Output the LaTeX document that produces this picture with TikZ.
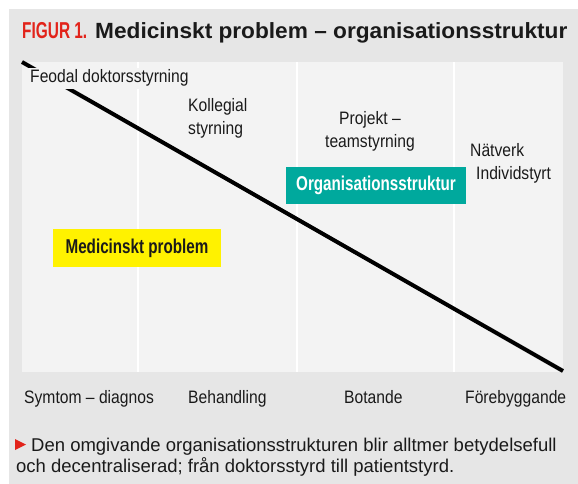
\documentclass[tikz,border=0pt]{standalone}
\usepackage{fontspec}
\setmainfont{Liberation Sans}
\newfontfamily\labelfont[FakeStretch=0.87]{Liberation Sans}
\newfontfamily\condbold[FakeStretch=0.76]{Liberation Sans}
\newfontfamily\figfont[FakeStretch=0.67]{Liberation Sans}
\newfontfamily\titlefont[FakeStretch=1.03]{Liberation Sans}
\definecolor{outerbg}{HTML}{E6E6E6}
\definecolor{innerbg}{HTML}{F3F3F3}
\definecolor{figred}{HTML}{E2231A}
\definecolor{orgteal}{HTML}{00A99D}
\definecolor{probyellow}{HTML}{FFF200}
\definecolor{textdark}{HTML}{1A1A1A}
\begin{document}
\begin{tikzpicture}[x=1pt,y=-1pt,
  lbl/.style={font=\labelfont\fontsize{18}{23}\selectfont, text=textdark, inner sep=0pt},
  tag/.style={font=\condbold\bfseries\fontsize{20}{23}\selectfont, inner sep=0pt},
  divider/.style={white, line width=1.5pt},
  trend/.style={black, line width=4pt}]
\useasboundingbox (0,0) rectangle (578,484);
\fill[white] (0,0) rectangle (578,484);
% panels
\fill[outerbg] (9,9) rectangle (578,484);
\fill[innerbg] (22,62) rectangle (563,372);
% column dividers
\draw[divider] (138,62) -- (138,372);
\draw[divider] (297,62) -- (297,372);
\draw[divider] (454,62) -- (454,372);
% heading
\node[anchor=base west, inner sep=0pt, text=figred,
      font=\figfont\bfseries\fontsize{23}{24}\selectfont] (fig) at (22,39) {FIGUR 1.};
\node[anchor=base west, inner sep=0pt, text=textdark,
      font=\titlefont\bfseries\fontsize{22}{24}\selectfont] (title) at (95,39)
      {Medicinskt problem – organisationsstruktur};
% falling trend line across the panel
\coordinate (trendstart) at (22,62);
\coordinate (trendend) at (563,371);
\draw[trend] (trendstart) -- (trendend);
% organisation forms
\node[lbl, anchor=base west, fill=innerbg, inner sep=2pt] (feodal) at (28,83) {Feodal doktorsstyrning};
\node[lbl, anchor=north west, align=left] (kollegial) at (188,98) {Kollegial\\styrning};
\node[lbl, anchor=north, align=center] (projekt) at (370,111) {Projekt –\\teamstyrning};
\node[lbl, anchor=north west, align=left] (natverk) at (470,143) {Nätverk\\\hspace*{6pt}Individstyrt};
% tags
\node[tag, fill=orgteal, text=white, minimum width=180pt, minimum height=37pt] (org) at (376,185.5) {Organisationsstruktur};
\node[tag, fill=probyellow, text=textdark, minimum width=168pt, minimum height=38pt] (prob) at (137,248) {Medicinskt problem};
% medical stages
\node[lbl, anchor=base west] (symtom) at (24,403) {Symtom – diagnos};
\node[lbl, anchor=base west] (behandling) at (188,403) {Behandling};
\node[lbl, anchor=base west] (botande) at (344,403) {Botande};
\node[lbl, anchor=base west] (forebygg) at (465,403) {Förebyggande};
% caption
\fill[figred] (15,439) -- (26,444.5) -- (15,450) -- cycle;
\node[anchor=north west, inner sep=0pt, align=left, text=textdark,
      font=\fontsize{18.5}{21}\selectfont] (caption) at (16,438)
      {\hspace*{15pt}Den omgivande organisationsstrukturen blir alltmer betydelsefull\\och decentraliserad; från doktorsstyrd till patientstyrd.};
\end{tikzpicture}
\end{document}
